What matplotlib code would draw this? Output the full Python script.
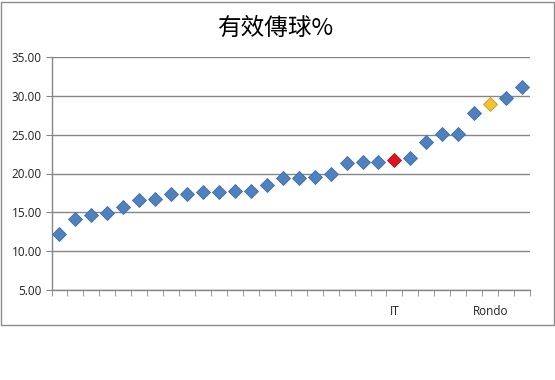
import matplotlib.pyplot as plt
from matplotlib.patches import Rectangle
from matplotlib.ticker import FixedLocator, FormatStrFormatter

title = "有效傳球%"
values = [12.2, 14.1, 14.7, 14.9, 15.7, 16.6, 16.7, 17.3, 17.3, 17.6,
          17.6, 17.8, 17.8, 18.5, 19.4, 19.4, 19.6, 20.0, 21.3, 21.5,
          21.5, 21.7, 22.0, 24.0, 25.1, 25.1, 27.8, 28.9, 29.7, 31.2]
names = [""] * 21 + ["IT"] + [""] * 5 + ["Rondo"] + [""] * 2
highlight = {"IT": "#E0141E", "Rondo": "#F2C230"}
highlight_edge = {"IT": "#B01018", "Rondo": "#C8962A"}
y_ticks = [5, 10, 15, 20, 25, 30, 35]

blue = "#4F81BD"
grid_gray = "#868686"

fig = plt.figure(figsize=(5.55, 3.8), dpi=100)
fig.patches.append(Rectangle((1 / 555, 1 - 325 / 380), 553 / 555, 323 / 380,
                             transform=fig.transFigure, fill=False,
                             edgecolor="#8C8C8C", linewidth=1))

ax = fig.add_axes([51.5 / 555, 1 - 290 / 380, (530 - 51.5) / 555, (290 - 57) / 380])

xs = list(range(len(values)))
colors = [highlight.get(n, blue) for n in names]
edges = [highlight_edge.get(n, "#3E6EA6") for n in names]
for x, v, c, e in zip(xs, values, colors, edges):
    ax.plot(x, v, marker="D", markersize=7, color=c, markeredgecolor=e,
            markeredgewidth=0.6, linestyle="none", zorder=3)

ax.set_xlim(-0.5, len(values) - 0.5)
ax.set_ylim(5, 35)

ax.set_yticks(y_ticks)
ax.yaxis.set_major_formatter(FormatStrFormatter("%.2f"))
ax.grid(axis="y", color=grid_gray, linewidth=1)
ax.set_axisbelow(True)

label_pos = [i for i, n in enumerate(names) if n]
ax.xaxis.set_major_locator(FixedLocator(label_pos))
ax.set_xticklabels([names[i] for i in label_pos])
ax.xaxis.set_minor_locator(FixedLocator([i - 0.5 for i in range(len(values) + 1)]))
ax.tick_params(axis="x", which="major", length=0, pad=11,
               labelsize=8.5, labelcolor="#222222")
ax.tick_params(axis="x", which="minor", length=4, color=grid_gray, direction="out")
ax.tick_params(axis="y", length=4, color=grid_gray, labelsize=8.5,
               labelcolor="#222222", pad=3)

for s in ["top", "right"]:
    ax.spines[s].set_visible(False)
for s in ["left", "bottom"]:
    ax.spines[s].set_color(grid_gray)
    ax.spines[s].set_linewidth(1)

for lab in ax.get_xticklabels() + ax.get_yticklabels():
    lab.set_family(["Open Sans", "DejaVu Sans"])

fig.text(276 / 555, 1 - 28 / 380, title, ha="center", va="center",
         fontsize=17, fontweight="medium",
         family=["Noto Sans CJK TC", "DejaVu Sans"])

fig.savefig("out.png", dpi=100)
